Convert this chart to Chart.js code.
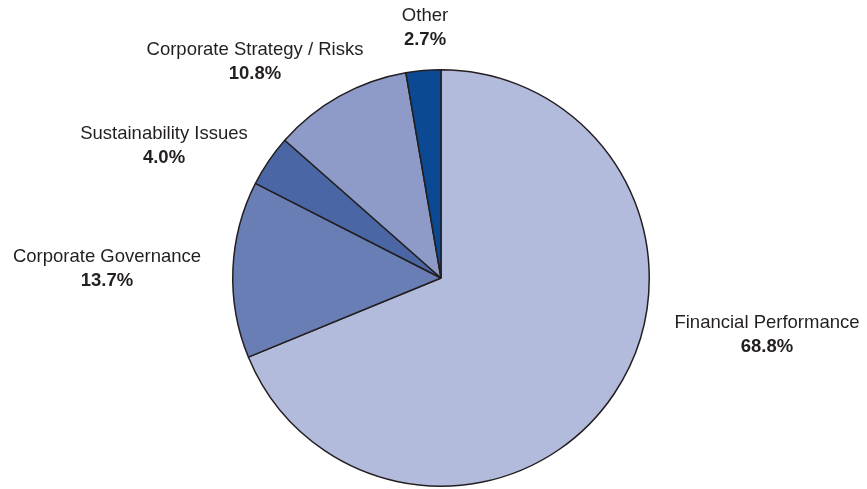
<!DOCTYPE html>
<html>
<head>
<meta charset="utf-8">
<script src="https://cdn.jsdelivr.net/npm/chart.js@4/dist/chart.umd.min.js"></script>
<style>
  html, body { margin: 0; padding: 0; background: #ffffff; }
  #wrap { position: relative; width: 867px; height: 489px; }
</style>
</head>
<body>
<div id="wrap"><canvas id="pie" width="867" height="489"></canvas></div>
<script>
// Share of topics, in percent, clockwise from twelve o'clock
const categories = [
  'Financial Performance',
  'Corporate Governance',
  'Sustainability Issues',
  'Corporate Strategy / Risks',
  'Other'
];
const shares = [68.8, 13.7, 4.0, 10.8, 2.7];
const sliceColors = ['#b3bbdc', '#6a7eb6', '#4a66a4', '#8e9bc9', '#0b4a92'];

// Where each two-line callout sits (centre of the text block)
const calloutAnchors = [
  { x: 767, y: 323 },
  { x: 107, y: 257 },
  { x: 164, y: 134 },
  { x: 255, y: 50 },
  { x: 425, y: 16 }
];

const callouts = {
  id: 'callouts',
  afterDraw(chart) {
    const ctx = chart.ctx;
    const data = chart.data.datasets[0].data;
    ctx.save();
    ctx.fillStyle = '#231f20';
    ctx.textAlign = 'center';
    ctx.textBaseline = 'middle';
    chart.data.labels.forEach((name, i) => {
      const a = calloutAnchors[i];
      ctx.font = '18.5px "Liberation Sans", Arial, sans-serif';
      ctx.fillText(name, a.x, a.y);
      ctx.font = 'bold 18.5px "Liberation Sans", Arial, sans-serif';
      ctx.fillText(data[i].toFixed(1) + '%', a.x, a.y + 24);
    });
    ctx.restore();
  }
};

new Chart(document.getElementById('pie'), {
  type: 'pie',
  data: {
    labels: categories,
    datasets: [{
      data: shares,
      backgroundColor: sliceColors,
      borderColor: '#231f20',
      borderWidth: 1.5,
      borderAlign: 'center'
    }]
  },
  options: {
    responsive: false,
    animation: false,
    rotation: 0,
    layout: { padding: { top: 69, bottom: 2, left: 232, right: 217 } },
    plugins: {
      legend: { display: false },
      tooltip: { enabled: false }
    }
  },
  plugins: [callouts]
});
</script>
</body>
</html>
